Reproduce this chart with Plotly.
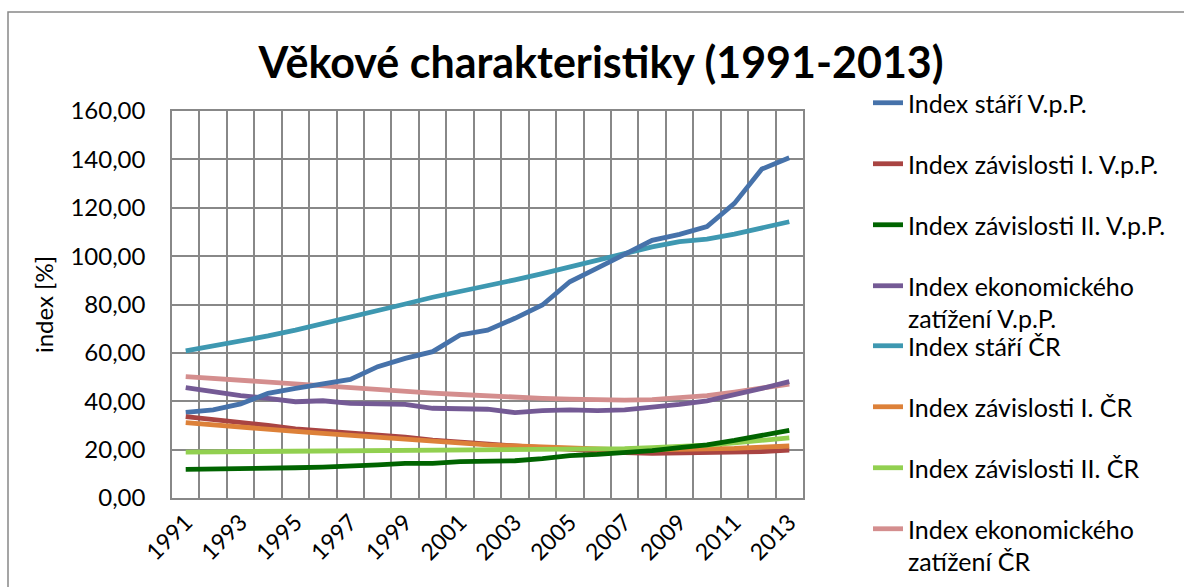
import plotly.graph_objects as go

years = list(range(1991, 2014))

index_stari_vpp = [35.4, 36.4, 38.9, 43.3, 45.3, 47.1, 49.0, 54.3, 57.7, 60.5, 67.4, 69.4, 74.3, 79.8, 89.4, 95.0, 100.5, 106.5, 109.0, 112.2, 121.8, 136.0, 140.7]
index_zav1_vpp = [33.6, 32.5, 31.4, 30.0, 28.6, 27.8, 26.9, 26.0, 25.2, 23.9, 23.0, 22.3, 21.5, 20.8, 20.0, 19.3, 18.8, 18.5, 18.6, 18.8, 19.0, 19.2, 19.8]
index_zav2_vpp = [11.8, 11.9, 12.1, 12.3, 12.5, 12.8, 13.1, 13.7, 14.3, 14.3, 15.0, 15.2, 15.4, 16.3, 17.5, 18.0, 18.6, 19.6, 20.8, 22.0, 23.8, 26.0, 28.0]
index_ekon_vpp = [45.6, 43.7, 42.3, 41.2, 39.8, 40.2, 39.1, 38.9, 38.7, 37.1, 36.7, 36.7, 35.3, 36.1, 36.4, 36.1, 36.4, 37.5, 38.7, 40.2, 42.6, 45.3, 48.1]
index_stari_cr = [60.8, 62.7, 64.6, 67.0, 69.4, 72.0, 74.7, 77.5, 80.2, 83.0, 85.3, 87.8, 90.2, 92.8, 95.6, 98.6, 101.4, 103.8, 106.0, 107.0, 109.1, 111.7, 114.2]
index_zav1_cr = [31.2, 30.2, 29.3, 28.4, 27.5, 26.7, 25.9, 25.1, 24.3, 23.3, 22.6, 22.0, 21.5, 21.0, 20.5, 20.1, 19.9, 19.9, 20.0, 20.2, 20.5, 21.0, 21.5]
index_zav2_cr = [19.0, 19.1, 19.1, 19.2, 19.3, 19.3, 19.4, 19.5, 19.5, 19.5, 19.5, 19.6, 19.7, 19.8, 19.9, 20.1, 20.4, 20.8, 21.3, 21.9, 22.8, 23.8, 24.9]
index_ekon_cr = [50.2, 49.4, 48.6, 47.8, 47.0, 46.2, 45.5, 44.8, 44.1, 43.4, 42.8, 42.2, 41.7, 41.2, 40.9, 40.6, 40.5, 40.7, 41.3, 42.3, 43.8, 45.5, 47.1]

series_names = [
    "Index stáří V.p.P.",
    "Index závislosti I. V.p.P.",
    "Index závislosti II. V.p.P.",
    "Index ekonomického<br>zatížení V.p.P.",
    "Index stáří ČR",
    "Index závislosti I. ČR",
    "Index závislosti II. ČR",
    "Index ekonomického<br>zatížení ČR",
]
series_values = [index_stari_vpp, index_zav1_vpp, index_zav2_vpp, index_ekon_vpp,
                 index_stari_cr, index_zav1_cr, index_zav2_cr, index_ekon_cr]
colors = ["#4672AA", "#A94442", "#006400", "#745A95", "#3E98B1", "#DD8139", "#92D050", "#D48E8E"]
# draw order: later traces on top
draw_order = [4, 7, 3, 0, 1, 5, 6, 2]

tick_years = list(range(1991, 2014, 2))
y_ticks = [0, 20, 40, 60, 80, 100, 120, 140, 160]

W, H = 1184, 587
FONT = "Lato"
TXT = 24
LEG = 25
legend_centers = [103, 164, 225, 286, 346, 407, 468, 529]

fig = go.Figure()
for i in draw_order:
    fig.add_trace(go.Scatter(
        x=years, y=series_values[i], mode="lines", name=series_names[i],
        line=dict(color=colors[i], width=4.8), legend="legend" if i == 0 else f"legend{i+1}",
        showlegend=True,
    ))

legends = {}
for i, cy in enumerate(legend_centers):
    key = "legend" if i == 0 else f"legend{i+1}"
    legends[key] = dict(
        xref="container", yref="container", x=868 / W, y=1 - (cy - 23) / H,
        xanchor="left", yanchor="top", valign="top",
        font=dict(family=FONT, size=LEG, color="#000"), bgcolor="rgba(0,0,0,0)",
        itemwidth=30, visible=True,
    )

fig.update_layout(
    width=W, height=H, showlegend=True,
    margin=dict(l=172, r=W - 803, t=111, b=H - 498),
    paper_bgcolor="white", plot_bgcolor="white",
    separators=", ",
    title=dict(text="<b>Věkové charakteristiky (1991-2013)</b>", x=601 / W, y=1 - 63 / H,
               xref="container", yref="container", xanchor="center", yanchor="middle",
               font=dict(family=FONT, size=43, color="#000")),
    font=dict(family=FONT, color="#000"),
    **legends,
    xaxis=dict(
        range=[1990.5, 2013.5], tickmode="array", tickvals=tick_years,
        ticktext=[str(y) for y in tick_years], tickangle=-45,
        tickfont=dict(family=FONT, size=23, color="#000"),
        showgrid=False, showline=True, linecolor="#888", linewidth=1.5, mirror=True,
        ticks="", zeroline=False,
        minor=dict(tickmode="array", tickvals=[1990.5 + k for k in range(24)],
                   showgrid=True, gridcolor="#888", gridwidth=1.5, ticks=""),
    ),
    yaxis=dict(
        range=[0, 160], tickmode="array", tickvals=y_ticks, tickformat=".2f",
        tickfont=dict(family=FONT, size=TXT, color="#000"),
        showgrid=True, gridcolor="#888", gridwidth=1.5,
        showline=True, linecolor="#888", linewidth=1.5, mirror=True,
        ticks="", zeroline=False, ticklabelstandoff=20,
        title=dict(text="index [%]", font=dict(family=FONT, size=TXT, color="#000"), standoff=10),
    ),
    shapes=[dict(type="rect", xref="paper", yref="paper",
                 x0=(8 - 172) / 631, x1=(1200 - 172) / 631,
                 y0=(498 - 600) / 387, y1=(498 - 12) / 387,
                 line=dict(color="#888", width=1.5), fillcolor="rgba(0,0,0,0)", layer="below")],
)

fig.write_html("out.html", config={"displayModeBar": False},
               post_script="document.body.style.margin='0';")
